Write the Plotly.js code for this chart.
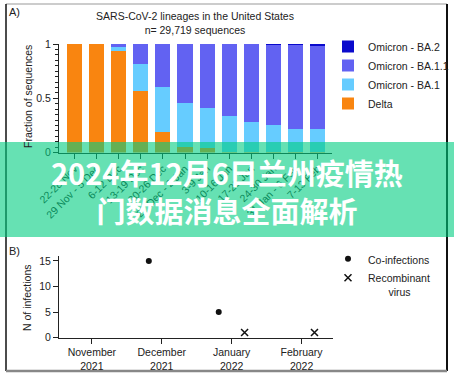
<!DOCTYPE html>
<html>
<head>
<meta charset="utf-8">
<script src="https://cdn.plot.ly/plotly-3.0.1.min.js"></script>
<style>html,body{margin:0;padding:0;background:#fff;}#chart{width:454px;height:379px;}</style>
</head>
<body>
<div id="chart"></div>
<script>
// ---- Panel A data: fraction of sequences per week ----
const weeks = ["22-28 Nov","29 Nov - 5 Dec","6-12 Dec","13-19 Dec","20-26 Dec","27 Dec - 2 Jan","3-9 Jan","10-16 Jan","17-23 Jan","24-30 Jan","31 Jan - 6 Feb","7-13 Feb"];
const delta = [1, 1, 0.94, 0.565, 0.19, 0.05, 0.04, 0.01, 0.005, 0.003, 0.002, 0.002];
const ba1   = [0, 0, 0.035, 0.255, 0.41, 0.41, 0.37, 0.325, 0.28, 0.247, 0.218, 0.213];
const ba11  = [0, 0, 0.025, 0.18, 0.40, 0.54, 0.59, 0.665, 0.713, 0.745, 0.772, 0.765];
const ba2   = [0, 0, 0, 0, 0, 0, 0, 0, 0.002, 0.005, 0.008, 0.02];

// ---- Panel B data: number of infections per month ----
const months = ["November<br>2021","December<br>2021","January<br>2022","February<br>2022"];
const coInfections = [null, 15, 5, null];
const recombinant  = [null, null, 1, 1];

const W = 454, H = 379;
const px = v => v / W;
const py = v => 1 - v / H;
const FONT = '"Liberation Sans", Arial, sans-serif';
const TXT = '#222';

const traces = [
  {type:'bar', name:'Delta', x:weeks, y:delta, marker:{color:'#F98510'}, xaxis:'x', yaxis:'y', legend:'legend'},
  {type:'bar', name:'Omicron - BA.1', x:weeks, y:ba1, marker:{color:'#66CCFF'}, xaxis:'x', yaxis:'y', legend:'legend'},
  {type:'bar', name:'Omicron - BA.1.1', x:weeks, y:ba11, marker:{color:'#6262F2'}, xaxis:'x', yaxis:'y', legend:'legend'},
  {type:'bar', name:'Omicron - BA.2', x:weeks, y:ba2, marker:{color:'#0A0ACC'}, xaxis:'x', yaxis:'y', legend:'legend'},
  {type:'scatter', mode:'markers', name:'Co-infections', x:months, y:coInfections, xaxis:'x2', yaxis:'y2',
   orientation:'v', offsetgroup:'a', legend:'legend2',
   marker:{symbol:'circle', size:6, color:'#111'}},
  {type:'scatter', mode:'markers', name:'Recombinant<br>\u00a0\u00a0\u00a0\u00a0\u00a0\u00a0\u00a0virus', x:months, y:recombinant, xaxis:'x2', yaxis:'y2',
   orientation:'v', offsetgroup:'b', legend:'legend2',
   marker:{symbol:'x-thin', size:7, color:'#111', line:{width:1.5, color:'#111'}}}
];

const axisCommon = {showgrid:false, zeroline:false, showline:true, linecolor:TXT, linewidth:1,
  ticks:'outside', ticklen:5, tickwidth:1, tickcolor:TXT, tickfont:{family:FONT, size:10.5, color:TXT}, fixedrange:true};

const layout = {
  width:W, height:H,
  margin:{l:0, r:0, t:0, b:0},
  paper_bgcolor:'#fff', plot_bgcolor:'rgba(0,0,0,0)',
  font:{family:FONT, size:10.5, color:TXT},
  showlegend:true,
  barmode:'stack', bargap:0.32,
  scattermode:'group', scattergap:0.26,
  title:{text:'SARS-CoV-2 lineages in the United States<br>n= 29,719 sequences',
    x:px(195), xref:'paper', xanchor:'center', y:py(20), yref:'paper', yanchor:'top',
    font:{family:FONT, size:10.5, color:TXT}},
  xaxis: Object.assign({}, axisCommon, {type:'category', domain:[px(59), px(332)], range:[-0.7, 11.65],
    anchor:'y', tickangle:-45}),
  yaxis: Object.assign({}, axisCommon, {domain:[py(152.6), py(44)], range:[0,1], dtick:0.5, anchor:'x',
    minor:{dtick:0.05, ticks:'outside', ticklen:3, tickcolor:TXT, showgrid:false}}),
  xaxis2: Object.assign({}, axisCommon, {type:'category', domain:[px(59), px(333)], range:[-0.47, 3.45],
    anchor:'y2'}),
  yaxis2: Object.assign({}, axisCommon, {domain:[py(337.7), py(255.8)], range:[0,16], dtick:5, anchor:'x2'}),
  legend:{x:px(328), xanchor:'left', y:py(32), yanchor:'top', traceorder:'reversed',
    bgcolor:'rgba(0,0,0,0)', font:{family:FONT, size:10.5, color:TXT}},
  legend2:{x:px(328), xanchor:'left', y:py(245.5), yanchor:'top', valign:'top',
    bgcolor:'rgba(0,0,0,0)', font:{family:FONT, size:10.5, color:TXT}},
  shapes:[
    {type:'line', xref:'paper', yref:'paper', x0:px(6), x1:px(447), y0:py(4), y1:py(4), line:{color:'#999', width:1}, layer:'below'},
    {type:'line', xref:'paper', yref:'paper', x0:px(6), x1:px(6), y0:py(4), y1:py(371), line:{color:'#111', width:1.5}, layer:'below'},
    {type:'line', xref:'paper', yref:'paper', x0:px(447), x1:px(447), y0:py(4), y1:py(371), line:{color:'#111', width:2}, layer:'below'},
    {type:'line', xref:'paper', yref:'paper', x0:px(6), x1:px(447), y0:py(371), y1:py(371), line:{color:'#888', width:2.5}, layer:'below'},
    {type:'rect', xref:'paper', yref:'paper', x0:0, x1:1, y0:py(237), y1:py(142), fillcolor:'rgba(0,205,128,0.6)', line:{width:0}, layer:'above'}
  ],
  annotations:[
    {text:'A)', xref:'paper', yref:'paper', x:px(7), y:py(12), xanchor:'left', yanchor:'middle', showarrow:false, font:{family:FONT, size:11, color:TXT}},
    {text:'B)', xref:'paper', yref:'paper', x:px(7), y:py(251), xanchor:'left', yanchor:'middle', showarrow:false, font:{family:FONT, size:11, color:TXT}},
    {text:'Fraction of sequences', xref:'paper', yref:'paper', x:px(28), y:py(97), textangle:-90, xanchor:'center', yanchor:'middle', showarrow:false, font:{family:FONT, size:10.5, color:TXT}},
    {text:'N of infections', xref:'paper', yref:'paper', x:px(27), y:py(298), textangle:-90, xanchor:'center', yanchor:'middle', showarrow:false, font:{family:FONT, size:10.5, color:TXT}},
    {text:'2024年12月6日兰州疫情热<br>门数据消息全面解析', xref:'paper', yref:'paper', x:px(227.5), y:py(190.5), xanchor:'center', yanchor:'middle', showarrow:false,
     font:{family:'"Noto Sans CJK SC", "Noto Sans", sans-serif', size:29, color:'#ffffff', weight:'bold'}}
  ]
};

Plotly.newPlot('chart', traces, layout, {displayModeBar:false, staticPlot:true});
</script>
</body>
</html>
